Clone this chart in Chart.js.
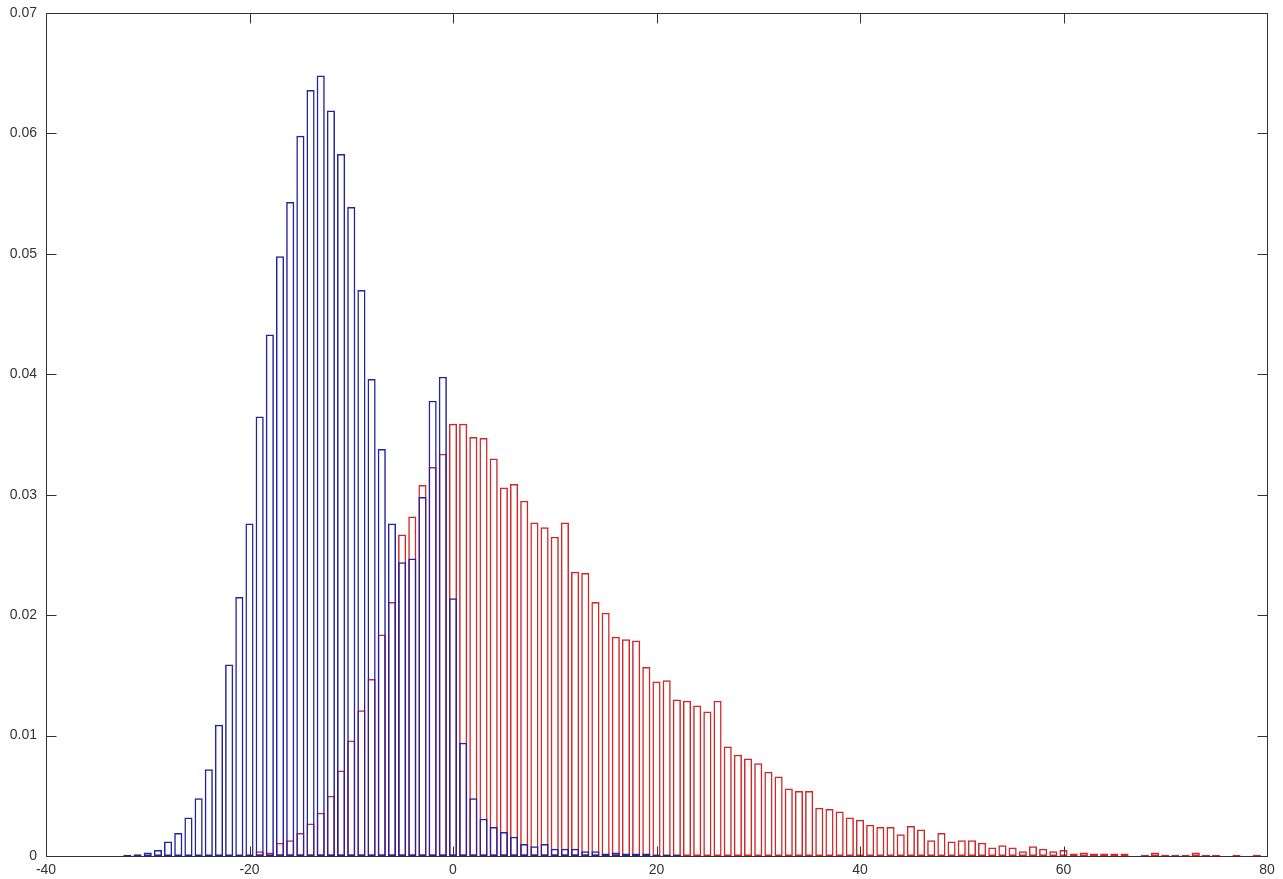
<!DOCTYPE html>
<html><head><meta charset="utf-8">
<script src="https://cdn.jsdelivr.net/npm/chart.js@4/dist/chart.umd.min.js"></script>
<style>html,body{margin:0;padding:0;background:#fff;overflow:hidden}</style>
</head><body>
<canvas id="c" width="1283" height="879"></canvas>
<script>
const blueBins = [-32,-31,-30,-29,-28,-27,-26,-25,-24,-23,-22,-21,-20,-19,-18,-17,-16,-15,-14,-13,-12,-11,-10,-9,-8,-7,-6,-5,-4,-3,-2,-1,0,1,2,3,4,5,6,7,8,9,10,11,12,13,14,15,16,17,18,19,20,21,22];
const blueValues = [0.0001,0.00015,0.0003,0.0005,0.0012,0.0019,0.0032,0.0048,0.0072,0.0109,0.0159,0.0215,0.0276,0.0365,0.0433,0.0498,0.0543,0.0598,0.0636,0.0648,0.0619,0.0583,0.0539,0.0470,0.0396,0.0338,0.0276,0.0244,0.0247,0.0298,0.0378,0.0398,0.0214,0.0094,0.0048,0.0031,0.0024,0.0020,0.0016,0.0010,0.0008,0.0010,0.0006,0.0006,0.0006,0.0004,0.0004,0.0002,0.0003,0.0002,0.0002,0.0002,0.0001,0.0001,0.0001];
const redBins = [-20,-19,-18,-17,-16,-15,-14,-13,-12,-11,-10,-9,-8,-7,-6,-5,-4,-3,-2,-1,0,1,2,3,4,5,6,7,8,9,10,11,12,13,14,15,16,17,18,19,20,21,22,23,24,25,26,27,28,29,30,31,32,33,34,35,36,37,38,39,40,41,42,43,44,45,46,47,48,49,50,51,52,53,54,55,56,57,58,59,60,61,62,63,64,65,66,68,69,70,71,72,73,74,75,77,79];
const redValues = [0.0001,0.0004,0.0003,0.0011,0.0013,0.0019,0.0027,0.0036,0.0050,0.0071,0.0096,0.0121,0.0147,0.0184,0.0211,0.0267,0.0282,0.0308,0.0323,0.0334,0.0359,0.0359,0.0348,0.0347,0.0330,0.0306,0.0309,0.0295,0.0277,0.0273,0.0265,0.0277,0.0236,0.0235,0.0211,0.0202,0.0182,0.0180,0.0179,0.0157,0.0145,0.0146,0.0130,0.0129,0.0125,0.0120,0.0129,0.0091,0.0084,0.0081,0.0077,0.0070,0.0066,0.0056,0.0054,0.0054,0.0040,0.0039,0.0037,0.0032,0.0030,0.0026,0.0024,0.0024,0.0018,0.0025,0.0022,0.0013,0.0019,0.0012,0.0013,0.0013,0.0011,0.0007,0.0009,0.0007,0.0004,0.0008,0.0006,0.0004,0.0005,0.0002,0.0003,0.0002,0.0002,0.0002,0.0002,0.0001,0.0003,0.0001,0.0001,0.0001,0.0003,0.0001,0.0001,0.0001,0.0001];
const xTickValues = [-40,-20,0,20,40,60,80];
const yTickValues = [0,0.01,0.02,0.03,0.04,0.05,0.06,0.07];
const yTickLabels = ['0','0.01','0.02','0.03','0.04','0.05','0.06','0.07'];

const framePlugin = {
  id: 'frame',
  afterDatasetsDraw(chart) {
    const {ctx, chartArea: a, scales: {x, y}} = chart;
    ctx.save();
    ctx.strokeStyle = '#333';
    ctx.lineWidth = 1;
    const l = Math.round(a.left) + 0.5, r = Math.round(a.right) + 0.5;
    const t = Math.round(a.top) + 0.5, b = Math.round(a.bottom) + 0.5;
    ctx.strokeRect(l, t, r - l, b - t);
    const L = 10;
    ctx.beginPath();
    x.ticks.forEach(tk => {
      const px = Math.round(x.getPixelForValue(tk.value)) + 0.5;
      ctx.moveTo(px, b); ctx.lineTo(px, b - L);
      ctx.moveTo(px, t); ctx.lineTo(px, t + L);
    });
    y.ticks.forEach(tk => {
      const py = Math.round(y.getPixelForValue(tk.value)) + 0.5;
      ctx.moveTo(l, py); ctx.lineTo(l + L, py);
      ctx.moveTo(r, py); ctx.lineTo(r - L, py);
    });
    ctx.stroke();
    ctx.restore();
  }
};

const font = {family: "'Liberation Sans', Arial, sans-serif", size: 14};

new Chart(document.getElementById('c'), {
  type: 'bar',
  data: {
    datasets: [
      {
        label: 'A',
        data: blueBins.map((b, i) => ({x: b, y: blueValues[i]})),
        backgroundColor: 'rgba(255,255,255,0)',
        borderColor: '#24249e',
        borderWidth: 1.5,
        borderSkipped: false,
        grouped: false,
        barPercentage: 0.8,
        categoryPercentage: 1.0
      },
      {
        label: 'B',
        data: redBins.map((b, i) => ({x: b, y: redValues[i]})),
        backgroundColor: 'rgba(255,255,255,0)',
        borderColor: '#d02828',
        borderWidth: 1.5,
        borderSkipped: false,
        grouped: false,
        barPercentage: 0.8,
        categoryPercentage: 1.0
      }
    ]
  },
  options: {
    responsive: false,
    animation: false,
    devicePixelRatio: 1,
    layout: {padding: {top: 13, right: 16, left: 0, bottom: 0}},
    plugins: {legend: {display: false}, tooltip: {enabled: false}},
    scales: {
      x: {
        type: 'linear',
        min: -40, max: 80,
        offset: false,
        grid: {display: false, drawTicks: false},
        border: {display: false},
        afterBuildTicks(s) { s.ticks = xTickValues.map(v => ({value: v})); },
        ticks: {color: '#333', font, padding: 6, maxRotation: 0, autoSkip: false,
                callback: v => String(v)},
        afterFit(s) { s.height = 23; s.paddingLeft = 0; s.paddingRight = 0; }
      },
      y: {
        type: 'linear',
        min: 0, max: 0.07,
        grid: {display: false, drawTicks: false},
        border: {display: false},
        afterBuildTicks(s) { s.ticks = yTickValues.map(v => ({value: v})); },
        ticks: {color: '#333', font, padding: 9, autoSkip: false,
                callback: (v, i) => yTickLabels[i]},
        afterFit(s) { s.width = 46; s.paddingTop = 0; s.paddingBottom = 0; }
      }
    }
  },
  plugins: [framePlugin]
});
</script>
</body></html>
